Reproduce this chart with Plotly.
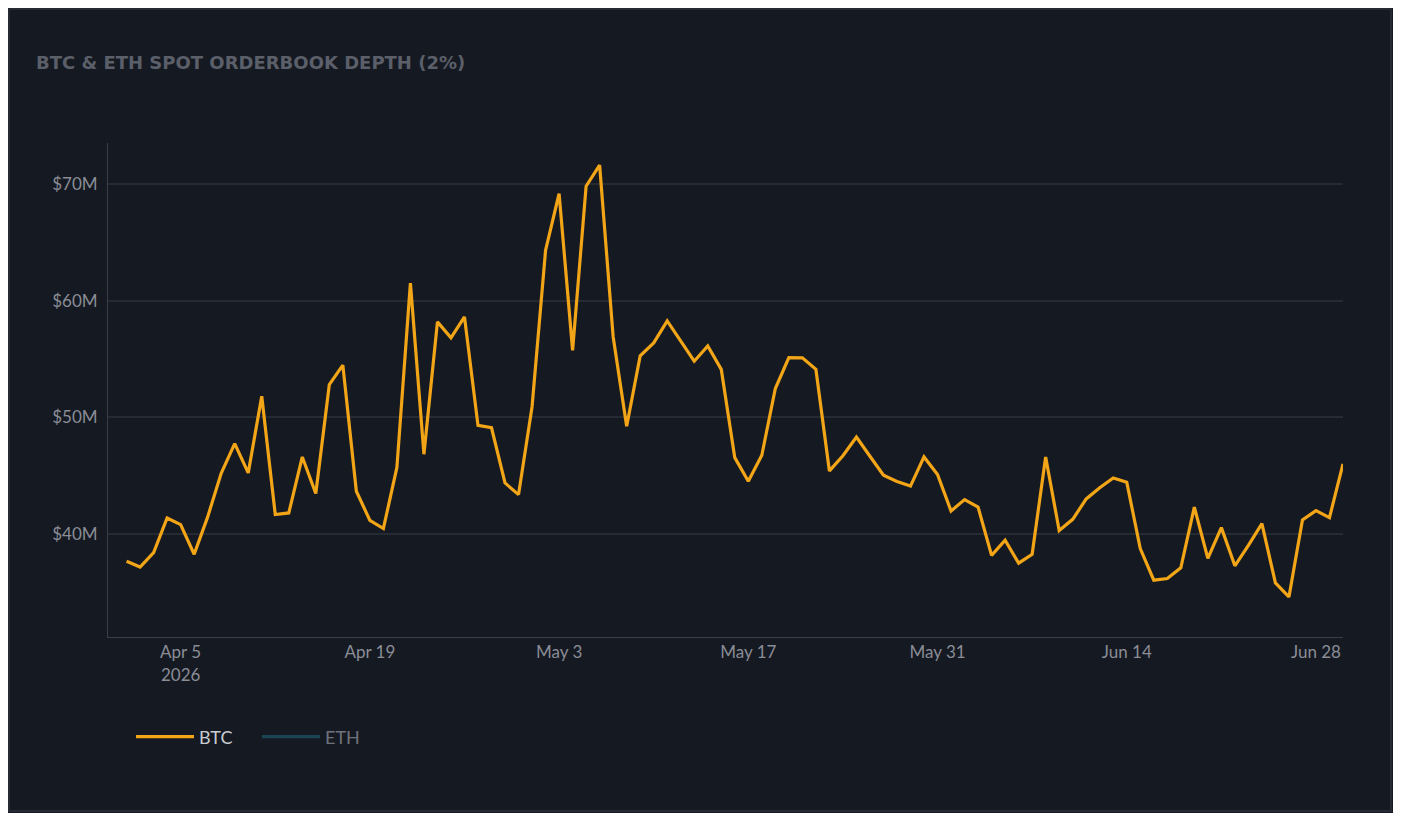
import plotly.graph_objects as go
import pandas as pd

dates = pd.date_range("2026-04-01", "2026-06-30", freq="D").strftime("%Y-%m-%d").tolist()
btc = [37.66, 37.17, 38.4, 41.37, 40.8, 38.26, 41.46, 45.2, 47.74, 45.23,
       51.8, 41.66, 41.8, 46.6, 43.46, 52.8, 54.46, 43.66, 41.17, 40.46,
       45.7, 61.5, 46.83, 58.17, 56.8, 58.6, 49.3, 49.1, 44.37, 43.37,
       50.9, 64.3, 69.17, 55.74, 69.8, 71.6, 56.9, 49.23, 55.26, 56.37,
       58.26, 56.54, 54.8, 56.1, 54.1, 46.54, 44.51, 46.74, 52.46, 55.11,
       55.09, 54.1, 45.4, 46.7, 48.3, 46.66, 45.03, 44.5, 44.1, 46.6,
       45.1, 41.97, 42.94, 42.3, 38.17, 39.46, 37.5, 38.26, 46.6, 40.3,
       41.25, 43.0, 43.96, 44.8, 44.44, 38.75, 36.04, 36.18, 37.1, 42.3,
       37.9, 40.54, 37.27, 39.03, 40.88, 35.8, 34.6, 41.2, 42.0, 41.4, 46.0]
btc_usd = [v * 1e6 for v in btc]
eth_usd = [None] * len(dates)
yticks = [40e6, 50e6, 60e6, 70e6]
ytick_text = ["$40M", "$50M", "$60M", "$70M"]

fig = go.Figure()
fig.add_trace(go.Scatter(x=dates, y=btc_usd, mode="lines", name="BTC",
                         line=dict(color="#f2a516", width=3.2)))
fig.add_trace(go.Scatter(x=dates, y=eth_usd, mode="lines", name="ETH",
                         line=dict(color="#1f7384", width=3.2), visible="legendonly"))

OFF = 8
FW, FH = 1385, 805
L, T, R, B = 108 - OFF, 143 - OFF, FW + OFF - 1343, FH + OFF - 637
W, H = 1343 - 108, 637 - 143
def px(x): return (x - 108) / W
def py(y): return (637 - y) / H

fig.update_layout(
    width=FW, height=FH,
    margin=dict(l=L, r=R, t=T, b=B),
    paper_bgcolor="#151922", plot_bgcolor="#151922",
    font=dict(family="Lato, sans-serif", color="#8a8d96", size=17),
    title=dict(text="BTC &amp; ETH SPOT ORDERBOOK DEPTH (2%)", x=(36 - OFF) / FW, xanchor="left",
               y=1 - (63 - OFF) / FH, yanchor="middle",
               font=dict(size=18, color="#5b5f69", family="DejaVu Sans, sans-serif", weight="bold")),
    showlegend=True,
    legend=dict(orientation="h", x=px(131), y=py(737), xanchor="left", yanchor="middle",
                itemwidth=58, entrywidth=53, entrywidthmode="pixels",
                font=dict(size=18, color="#c9cbd1"), bgcolor="rgba(0,0,0,0)"),
    xaxis=dict(range=["2026-03-30 15:00", "2026-06-30"], type="date",
               tick0="2026-04-05", dtick=14*86400000, showgrid=False,
               showline=True, linecolor="#3a3e47", linewidth=1, ticks="",
               tickfont=dict(size=17, color="#8a8d96"), zeroline=False),
    yaxis=dict(range=[31.17e6, 73.5e6], tickvals=yticks, ticktext=ytick_text,
               showgrid=True, gridcolor="#262a33", gridwidth=1.5,
               showline=True, linecolor="#3a3e47", linewidth=1, ticks="",
               ticklabelstandoff=6, tickfont=dict(size=17, color="#8a8d96"), zeroline=False),
    shapes=[dict(type="rect", xref="paper", yref="paper",
                 x0=px(9), x1=px(1391), y0=py(811), y1=py(9),
                 line=dict(color="#2c3039", width=1.5), layer="below")],
)
fig.write_html("out.html")
